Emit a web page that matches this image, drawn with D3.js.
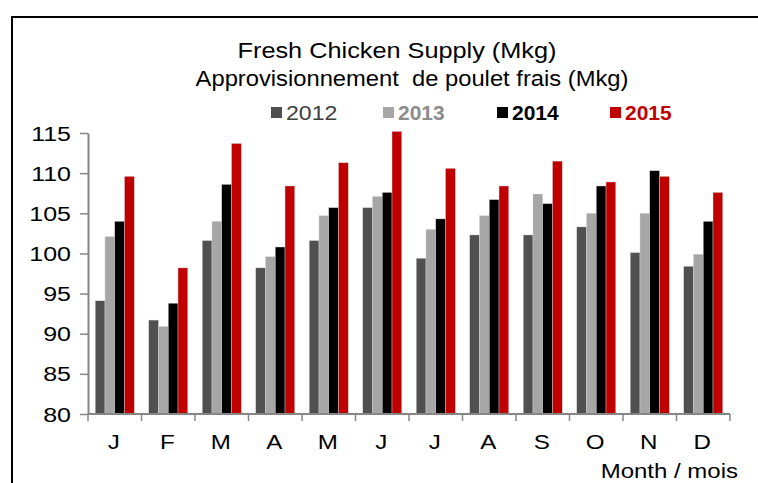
<!DOCTYPE html>
<html>
<head>
<meta charset="utf-8">
<script src="https://cdn.jsdelivr.net/npm/d3@7"></script>
<style>
  body { margin: 0; background: #fff; }
  svg { display: block; font-family: "Liberation Sans", Arial, sans-serif; }
</style>
</head>
<body>
<div id="chart"></div>
<script>
// Chart data
const months = ["J", "F", "M", "A", "M", "J", "J", "A", "S", "O", "N", "D"];
const years = ["2012", "2013", "2014", "2015"];
const values2012 = [94.1, 91.7, 101.6, 98.2, 101.6, 105.7, 99.4, 102.3, 102.3, 103.3, 100.1, 98.4];
const values2013 = [102.1, 90.9, 104.0, 99.6, 104.7, 107.1, 103.0, 104.7, 107.4, 105.0, 105.0, 99.9];
const values2014 = [104.0, 93.8, 108.6, 100.8, 105.7, 107.6, 104.3, 106.7, 106.2, 108.4, 110.3, 104.0];
const values2015 = [109.6, 98.2, 113.7, 108.4, 111.3, 115.2, 110.6, 108.4, 111.5, 108.9, 109.6, 107.6];
const yTicks = [80, 85, 90, 95, 100, 105, 110, 115];

const series = [values2012, values2013, values2014, values2015];
const colors = ["#505050", "#a6a6a6", "#000000", "#c00000"];
const legendColors = ["#404040", "#8c8c8c", "#000000", "#c00000"];

const width = 758, height = 483;
const margin = { top: 133, right: 28, bottom: 69, left: 88 };

// the original text looks horizontally stretched, so draw it that way
function place(sel, x, y, sx) {
  sel.attr("x", null).attr("y", null)
     .attr("transform", `translate(${x},${y}) scale(${sx},1)`);
}

const svg = d3.select("#chart").append("svg")
    .attr("width", width)
    .attr("height", height);

// outer frame (runs off the right/bottom edge)
svg.append("rect")
    .attr("x", 12).attr("y", 17)
    .attr("width", 760).attr("height", 480)
    .attr("fill", "none")
    .attr("stroke", "#000")
    .attr("stroke-width", 2);

const x = d3.scaleBand()
    .domain(d3.range(months.length))
    .range([margin.left, width - margin.right])
    .paddingInner(0.27)
    .paddingOuter(0.135);

const xOuter = d3.scaleBand()
    .domain(d3.range(months.length))
    .range([margin.left, width - margin.right]);

const xInner = d3.scaleBand()
    .domain(years)
    .range([0, x.bandwidth()]);

const y = d3.scaleLinear()
    .domain([80, 115])
    .range([height - margin.bottom, margin.top]);

// bars
const rows = months.map((m, i) => years.map((yr, k) => ({ i, yr, k, v: series[k][i] })));
svg.append("g")
  .selectAll("g")
  .data(rows)
  .join("g")
    .attr("transform", (d, i) => `translate(${x(i)},0)`)
  .selectAll("rect")
  .data(d => d)
  .join("rect")
    .attr("x", d => xInner(d.yr))
    .attr("y", d => y(d.v))
    .attr("width", xInner.bandwidth())
    .attr("height", d => y(80) - y(d.v))
    .attr("fill", d => colors[d.k])
    .attr("stroke", "#d9d9d9")
    .attr("stroke-width", 0.4);

// y axis
const yAxis = svg.append("g")
    .attr("transform", `translate(${margin.left},0)`)
    .call(d3.axisLeft(y).tickValues(yTicks).tickSize(8).tickPadding(8).tickSizeOuter(0));
yAxis.select(".domain").attr("stroke", "#868686").attr("stroke-width", 2);
yAxis.selectAll(".tick line").attr("stroke", "#868686").attr("stroke-width", 1.5);
yAxis.selectAll(".tick text")
    .attr("font-size", 20)
    .attr("fill", "#000")
    .attr("dy", null)
    .each(function () { place(d3.select(this), -17, 7, 1.25); });

// x axis: ticks at category boundaries
const xAxisG = svg.append("g")
    .attr("transform", `translate(0,${y(80)})`);
xAxisG.append("line")
    .attr("x1", margin.left).attr("x2", width - margin.right)
    .attr("stroke", "#868686").attr("stroke-width", 2);
xAxisG.selectAll("line.tick")
  .data(d3.range(months.length + 1))
  .join("line")
    .attr("class", "tick")
    .attr("x1", i => i < months.length ? xOuter(i) : xOuter(i - 1) + xOuter.bandwidth())
    .attr("x2", i => i < months.length ? xOuter(i) : xOuter(i - 1) + xOuter.bandwidth())
    .attr("y1", 0).attr("y2", 7)
    .attr("stroke", "#868686").attr("stroke-width", 1.5);
xAxisG.selectAll("text")
  .data(months)
  .join("text")
    .attr("text-anchor", "middle")
    .attr("font-size", 21)
    .text(d => d)
    .each(function (d, i) { place(d3.select(this), xOuter(i) + xOuter.bandwidth() / 2 - 1, 35, 1.15); });

// x axis title
svg.append("text")
    .attr("text-anchor", "end")
    .attr("font-size", 20)
    .text("Month / mois")
    .call(place, 738, 478, 1.2);

// titles
svg.append("text")
    .attr("text-anchor", "middle")
    .attr("font-size", 22)
    .text("Fresh Chicken Supply (Mkg)")
    .call(place, 397, 58, 1.15);
svg.append("text")
    .attr("text-anchor", "middle")
    .attr("font-size", 22)
    .style("white-space", "pre")
    .text("Approvisionnement  de poulet frais (Mkg)")
    .call(place, 412, 86, 1.08);

// legend
const legendX = [271, 383, 497, 610];
const legend = svg.append("g")
  .selectAll("g")
  .data(years)
  .join("g")
    .attr("transform", (d, i) => `translate(${legendX[i]},107)`);
legend.append("rect")
    .attr("width", 11).attr("height", 11)
    .attr("fill", (d, i) => colors[i]);
legend.append("text")
    .attr("font-size", 21)
    .attr("font-weight", (d, i) => i === 0 ? "normal" : "bold")
    .attr("fill", (d, i) => legendColors[i])
    .text(d => d)
    .each(function (d, i) { place(d3.select(this), 15, 13, i === 0 ? 1.1 : 1.0); });
</script>
</body>
</html>
